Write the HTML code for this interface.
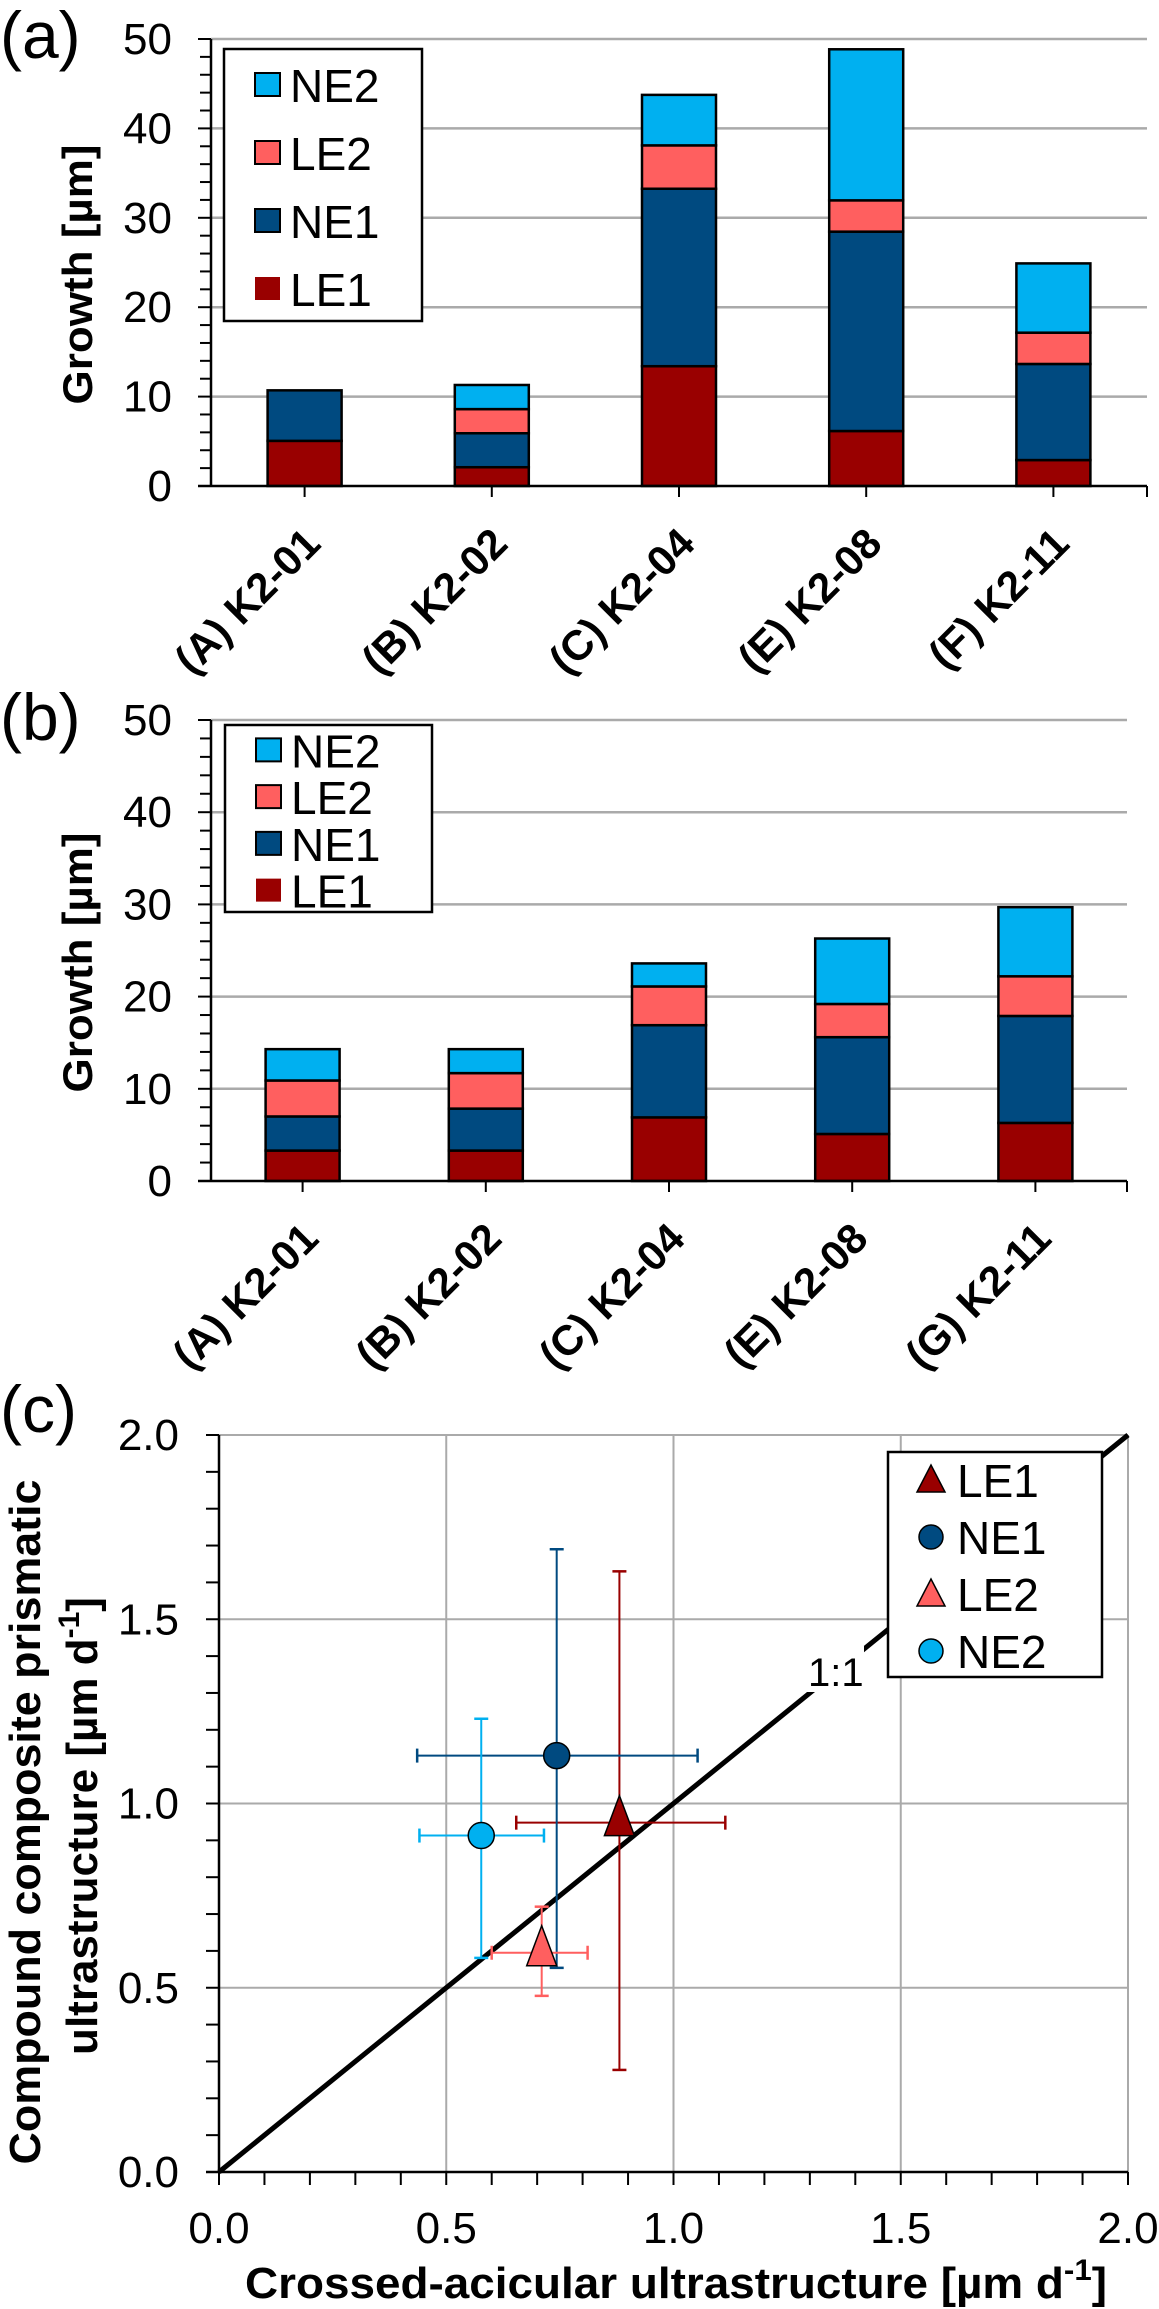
<!DOCTYPE html>
<html><head><meta charset="utf-8"><style>
html,body{margin:0;padding:0;background:#fff;}
svg{display:block;font-family:"Liberation Sans",Arial,sans-serif;}
</style></head><body>
<svg id="fig" width="1159" height="2309" viewBox="0 0 1159 2309" xmlns="http://www.w3.org/2000/svg">
<rect x="0" y="0" width="1159" height="2309" fill="#fff"/>
<g id="root"></g>
</svg>
<script>
const NS="http://www.w3.org/2000/svg";
const root=document.getElementById('root');
function mk(tag,attrs,parent,text){const e=document.createElementNS(NS,tag);for(const k in attrs)e.setAttribute(k,attrs[k]);if(text!==undefined)e.textContent=text;(parent||root).appendChild(e);return e;}

// ---------- data ----------
const seriesNames=["LE1","NE1","LE2","NE2"];
const seriesColors=["#990000","#004A80","#FF5F5F","#00B0F0"];
const catsA=["(A) K2-01","(B) K2-02","(C) K2-04","(E) K2-08","(F) K2-11"];
const catsB=["(A) K2-01","(B) K2-02","(C) K2-04","(E) K2-08","(G) K2-11"];
const a_LE1=[5.05,2.1,13.4,6.15,2.9];
const a_NE1=[5.65,3.8,19.85,22.3,10.75];
const a_LE2=[0,2.7,4.85,3.5,3.5];
const a_NE2=[0,2.7,5.65,16.9,7.75];
const b_LE1=[3.3,3.3,6.9,5.1,6.3];
const b_NE1=[3.7,4.55,10.0,10.5,11.6];
const b_LE2=[3.9,3.85,4.2,3.6,4.3];
const b_NE2=[3.4,2.6,2.5,7.1,7.5];
const yTicksBar=[0,10,20,30,40,50];

const scNames=["LE1","NE1","LE2","NE2"];
const scX=[0.881,0.743,0.710,0.577];
const scY=[0.948,1.130,0.595,0.913];
const scXlo=[0.654,0.436,0.600,0.441];
const scXhi=[1.114,1.053,0.811,0.715];
const scYlo=[0.277,0.554,0.478,0.581];
const scYhi=[1.630,1.690,0.720,1.230];
const scShape=["tri","circ","tri","circ"];
const scColor=["#990000","#004A80","#FF5F5F","#00B0F0"];
const scTicks=[0.0,0.5,1.0,1.5,2.0];

function barChart(cfg){
  const g=mk('g',{});
  
  
  const x0=cfg.x0,x1=cfg.x1,yTop=cfg.yTop,yBot=cfg.yBot,vmax=50;
  const Y=v=>yBot-(v/vmax)*(yBot-yTop);
  const band=(x1-x0)/cfg.cats.length;
  const X=i=>x0+band*(i+0.5);
  yTicksBar.forEach(t=>{ if(t>0){const l=mk('line',{x1:x0,x2:x1,y1:Y(t),y2:Y(t),stroke:'#aaa','stroke-width':2.5},g);
    }});
  for(let v=0;v<=vmax;v+=2){mk('line',{x1:(v%10===0?x0-13:x0-11),x2:x0,y1:Y(v),y2:Y(v),stroke:'#000','stroke-width':2},g);}
  yTicksBar.forEach(t=>{const tx=mk('text',{x:cfg.x0-39,y:Y(t)+15,'text-anchor':'end','font-size':44,fill:'#000'},g,String(t));
    });
  const series=cfg.series;
  cfg.cats.forEach((c,i)=>{
    let acc=0;
    series.forEach((s,k)=>{
      const v=s[i]; if(v<=0) return;
      const r=mk('rect',{x:X(i)-37,width:74,y:Y(acc+v),height:Y(acc)-Y(acc+v),fill:seriesColors[k],stroke:'#000','stroke-width':2.5},g);
      
      
      acc+=v;
    });
    mk('line',{x1:X(i),x2:X(i),y1:yBot,y2:yBot+11,stroke:'#000','stroke-width':2},g);
    const lt=mk('text',{x:0,y:0,'text-anchor':'end','font-size':42,'font-weight':'bold',fill:'#000',transform:`translate(${X(i)+18},${yBot+60}) rotate(-45)`},g,c);
    
    
  });
  mk('line',{x1:x1,x2:x1,y1:yBot,y2:yBot+11,stroke:'#000','stroke-width':2},g);
  mk('line',{x1:x0,x2:x0,y1:yTop,y2:yBot,stroke:'#000','stroke-width':2.5},g);
  mk('line',{x1:x0-13,x2:x1,y1:yBot,y2:yBot,stroke:'#000','stroke-width':2.5},g);
  const yt=mk('text',{x:0,y:0,'text-anchor':'middle','font-size':42,'font-weight':'bold',textLength:260,lengthAdjust:'spacingAndGlyphs',transform:`translate(${cfg.yTitleX},${(yTop+yBot)/2+12}) rotate(-90)`},g,'Growth [µm]');
  
  const lg=mk('g',{},g);
  
  mk('rect',{x:cfg.lx,y:cfg.ly,width:cfg.lw,height:cfg.lh,fill:'#fff',stroke:'#000','stroke-width':2.5},lg);
  const order=[3,2,1,0];
  order.forEach((k,j)=>{
    const cy=cfg.ly+cfg.lh*(j+0.5)/4+2;
    const e=mk('g',{},lg);
    
    
    mk('rect',{x:cfg.lx+31,y:cy-12,width:25,height:23,fill:seriesColors[k],stroke:k===0?'none':'#000','stroke-width':2},e);
    mk('text',{x:cfg.lx+66,y:cy+17,'font-size':46,fill:'#000'},e,seriesNames[k]);
  });
}

barChart({name:'chart-a',x0:211,x1:1147,yTop:39,yBot:486,cats:catsA,series:[a_LE1,a_NE1,a_LE2,a_NE2],yTitleX:92,lx:224,ly:49,lw:198,lh:272});
barChart({name:'chart-b',x0:211,x1:1127,yTop:720,yBot:1181,cats:catsB,series:[b_LE1,b_NE1,b_LE2,b_NE2],yTitleX:92,lx:225,ly:725,lw:207,lh:187});

[['(a)',0,58],['(b)',0,740],['(c)',0,1432]].forEach(p=>{const t=mk('text',{x:p[1],y:p[2],'font-size':66,fill:'#000'},root,p[0]);
  });

(function(){
  const g=mk('g',{});
  
  
  const x0=219,x1=1128,yTop=1435,yBot=2172;
  const X=v=>x0+v/2*(x1-x0);
  const Y=v=>yBot-v/2*(yBot-yTop);
  scTicks.forEach(t=>{ if(t>0){
    mk('line',{x1:X(t),x2:X(t),y1:yTop,y2:yBot,stroke:'#aaa','stroke-width':2},g);
    mk('line',{x1:x0,x2:x1,y1:Y(t),y2:Y(t),stroke:'#aaa','stroke-width':2},g);}});
  for(let i=0;i<=20;i++){const v=i/10;
    mk('line',{x1:x0-13,x2:x0,y1:Y(v),y2:Y(v),stroke:'#000','stroke-width':2},g);
    mk('line',{x1:X(v),x2:X(v),y1:yBot,y2:yBot+13,stroke:'#000','stroke-width':2},g);}
  scTicks.forEach(t=>{
    const a=mk('text',{x:x0-40,y:Y(t)+15,'text-anchor':'end','font-size':44},g,t.toFixed(1));
    
    const b=mk('text',{x:X(t),y:2243,'text-anchor':'middle','font-size':44},g,t.toFixed(1));
    
  });
  const ol=mk('line',{x1:X(0),y1:Y(0),x2:X(2),y2:Y(2),stroke:'#000','stroke-width':5},g);
  
  mk('rect',{x:806,y:1646,width:58,height:46,fill:'#fff'},g);
  const l11=mk('text',{x:808,y:1686,'font-size':40},g,'1:1');
  
  mk('line',{x1:x0,x2:x0,y1:yTop,y2:yBot,stroke:'#000','stroke-width':2.5},g);
  mk('line',{x1:x0-13,x2:x1,y1:yBot,y2:yBot,stroke:'#000','stroke-width':2.5},g);
  scNames.forEach((n,i)=>{
    const pg=mk('g',{},g);
    
    
    const c=scColor[i],cx=X(scX[i]),cy=Y(scY[i]);
    mk('line',{x1:X(scXlo[i]),x2:X(scXhi[i]),y1:cy,y2:cy,stroke:c,'stroke-width':2},pg);
    mk('line',{x1:cx,x2:cx,y1:Y(scYlo[i]),y2:Y(scYhi[i]),stroke:c,'stroke-width':2},pg);
    [[X(scXlo[i]),cy,0],[X(scXhi[i]),cy,0],[cx,Y(scYlo[i]),1],[cx,Y(scYhi[i]),1]].forEach(p=>{
      if(p[2]===0) mk('line',{x1:p[0],x2:p[0],y1:p[1]-7,y2:p[1]+7,stroke:c,'stroke-width':2.5},pg);
      else mk('line',{x1:p[0]-7,x2:p[0]+7,y1:p[1],y2:p[1],stroke:c,'stroke-width':2.5},pg);});
    if(scShape[i]==='tri') mk('polygon',{points:`${cx},${cy-27} ${cx-15},${cy+13} ${cx+15},${cy+13}`,fill:c,stroke:'#000','stroke-width':1.5},pg);
    else mk('circle',{cx:cx,cy:cy,r:13,fill:c,stroke:'#000','stroke-width':1.5},pg);
  });
  const lg=mk('g',{},g);
  
  mk('rect',{x:888,y:1452,width:214,height:225,fill:'#fff',stroke:'#000','stroke-width':2.5},lg);
  scNames.forEach((n,i)=>{
    const cy=1480+i*57;
    const e=mk('g',{},lg);
    
    
    if(scShape[i]==='tri') mk('polygon',{points:`931,${cy-15} 917,${cy+12} 945,${cy+12}`,fill:scColor[i],stroke:'#000','stroke-width':1.5},e);
    else mk('circle',{cx:cx=931,cy:cy,r:12,fill:scColor[i],stroke:'#000','stroke-width':1.5},e);
    mk('text',{x:957,y:cy+17,'font-size':46},e,n);
  });
  const xt=mk('text',{x:245,y:2298,'font-size':44,'font-weight':'bold',textLength:862,lengthAdjust:'spacingAndGlyphs'},g);
  
  xt.innerHTML='Crossed-acicular ultrastructure [µm d<tspan dy="-18" font-size="30">-1</tspan><tspan dy="18">]</tspan>';
  const y1=mk('text',{x:0,y:0,'text-anchor':'middle','font-size':44,'font-weight':'bold',textLength:685,lengthAdjust:'spacingAndGlyphs',transform:'translate(40,1822) rotate(-90)'},g,'Compound composite prismatic');
  
  const y2=mk('text',{x:0,y:0,'text-anchor':'middle','font-size':44,'font-weight':'bold',transform:'translate(97,1826) rotate(-90)'},g);
  
  y2.innerHTML='ultrastructure [µm d<tspan dy="-18" font-size="30">-1</tspan><tspan dy="18">]</tspan>';
})();
</script>
</body></html>
